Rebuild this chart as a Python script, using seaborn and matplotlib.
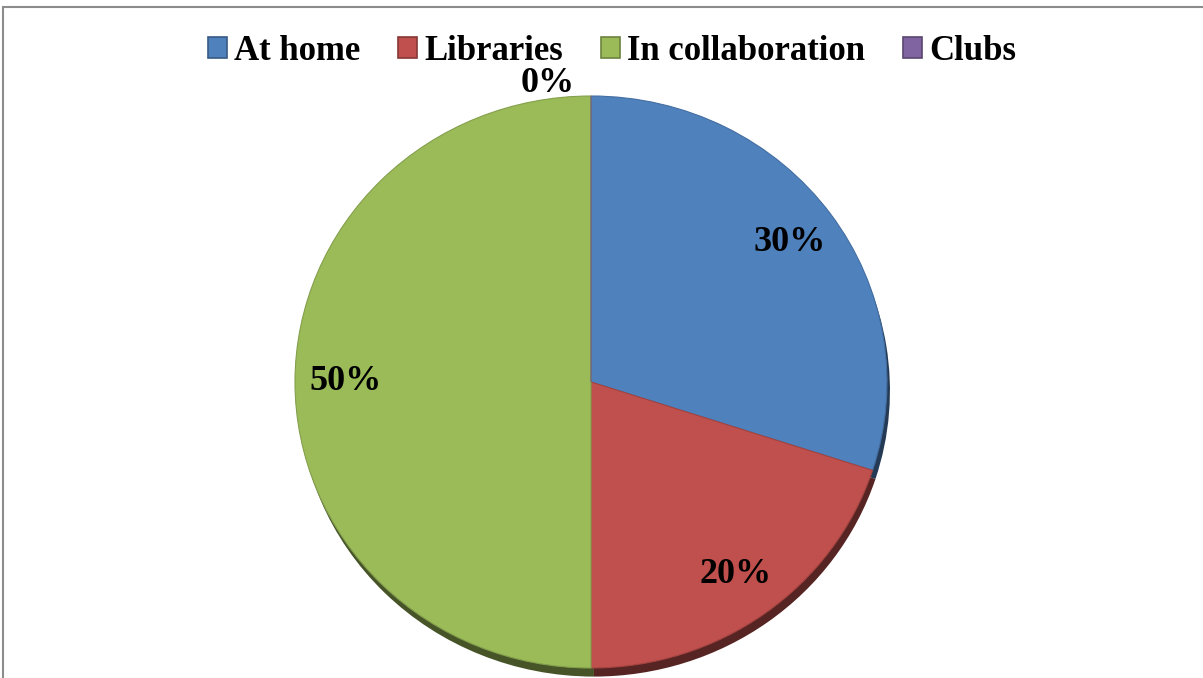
import matplotlib
matplotlib.use("Agg")
import matplotlib.pyplot as plt
import matplotlib.colors as mcolors
from matplotlib.patches import Rectangle
import seaborn as sns

categories = ["At home", "Libraries", "In collaboration", "Clubs"]
shares = [30, 20, 50, 0]
colors = ["#4F81BD", "#C0504D", "#9BBB59", "#8064A2"]

sns.set_theme(style="white")
plt.rcParams["font.family"] = ["Liberation Serif", "DejaVu Serif"]

fig = plt.figure(figsize=(12.03, 6.78), dpi=100)
# pie is slightly squashed vertically (tilted look), so axes aspect is left free
ax = fig.add_axes([295 / 1203, 10 / 678, 592 / 1203, 572 / 678])

# darker copy underneath acts as the bevel/shadow
dark = [tuple(c * 0.45 for c in mcolors.to_rgb(col)) for col in colors]
ax.pie(shares, colors=dark, startangle=90, counterclock=False, radius=1.0,
       center=(0.01, -0.03), wedgeprops=dict(linewidth=0))

wedges, texts, autotexts = ax.pie(
    shares, colors=colors, startangle=90, counterclock=False, radius=1.0,
    autopct="%1.0f%%", pctdistance=0.83,
    textprops=dict(fontsize=26, fontweight="bold", color="black"))
for w, col in zip(wedges, colors):
    w.set_edgecolor(tuple(c * 0.85 for c in mcolors.to_rgb(col)))
    w.set_linewidth(0.8)

# the 0% label sits just above the top of the pie, nudged left
autotexts[3].set_position((-0.145, 1.045))
ax.set_aspect("auto")
ax.set_xlim(-1.0, 1.0)
ax.set_ylim(-1.0, 1.0)
ax.axis("off")

handles = [Rectangle((0, 0), 1, 1, facecolor=c,
                     edgecolor=tuple(x * 0.7 for x in mcolors.to_rgb(c)), linewidth=1.2)
           for c in colors]
leg = fig.legend(handles, categories, loc="center", bbox_to_anchor=(612 / 1203, 1 - 51 / 678),
                 ncol=4, frameon=False, prop=dict(size=25, weight="bold"),
                 handlelength=0.55, handleheight=0.55, handletextpad=0.2, columnspacing=1.1)
for t in leg.get_texts():
    t.set_color("black")

# outer frame
fig.add_artist(Rectangle((3 / 1203, -0.02), 1.1, 1 - 7 / 678 + 0.02,
                         transform=fig.transFigure, fill=False,
                         edgecolor="#8c8c8c", linewidth=1.5))

fig.savefig("out.png", dpi=100)
